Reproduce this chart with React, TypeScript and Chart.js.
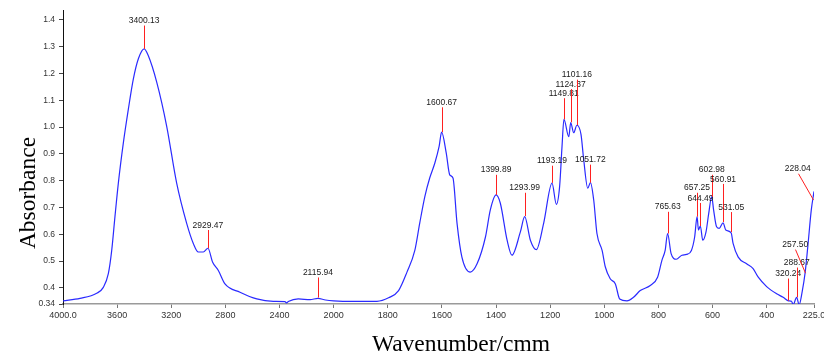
import React, { useEffect, useRef } from "react";
import { Chart, registerables } from "chart.js";

Chart.register(...registerables);

// Spectrum (wavenumber cm-1, absorbance)
const wavenumbers = [
  4000, 3874, 3751, 3702, 3665, 3640, 3616, 3591, 3554, 3517, 3480, 3443, 3400, 3370, 3307, 3234, 3160, 3086, 3037, 3000,
  2963, 2929, 2894, 2852, 2803, 2692, 2568, 2446, 2360, 2347, 2335, 2261, 2174, 2116, 2060, 2000, 1926, 1840, 1797, 1760,
  1729, 1700, 1682, 1663, 1645, 1626, 1610, 1601, 1584, 1571, 1559, 1544, 1526, 1495, 1470, 1439, 1421, 1400, 1384, 1359,
  1341, 1310, 1294, 1273, 1251, 1224, 1193, 1177, 1165, 1156, 1149, 1131, 1124, 1113, 1101, 1086, 1076, 1061, 1051, 1039,
  1027, 1008, 996, 978, 959, 943, 916, 892, 867, 830, 803, 787, 775, 766, 753, 734, 713, 696, 678, 666,
  657, 652, 645, 636, 624, 614, 603, 596, 585, 575, 561, 551, 531, 524, 505, 474, 450, 431, 400, 363,
  339, 320, 308, 302, 289, 280, 268, 258, 248, 235, 225,
];
const absorbances = [
  0.352, 0.361, 0.38, 0.402, 0.453, 0.54, 0.666, 0.791, 0.941, 1.067, 1.18, 1.255, 1.292, 1.267, 1.167, 1.004, 0.791, 0.641, 0.566, 0.534,
  0.534, 0.548, 0.496, 0.465, 0.415, 0.384, 0.359, 0.35, 0.349, 0.344, 0.349, 0.359, 0.356, 0.361, 0.355, 0.352, 0.35, 0.35, 0.363, 0.39,
  0.459, 0.54, 0.641, 0.741, 0.81, 0.866, 0.929, 0.981, 0.904, 0.822, 0.81, 0.641, 0.515, 0.459, 0.49, 0.59, 0.691, 0.747, 0.716, 0.578,
  0.522, 0.609, 0.666, 0.578, 0.543, 0.641, 0.791, 0.712, 0.778, 0.929, 1.029, 0.964, 1.017, 0.979, 1.007, 0.973, 0.879, 0.772, 0.793, 0.728,
  0.603, 0.54, 0.478, 0.434, 0.415, 0.359, 0.352, 0.365, 0.39, 0.409, 0.44, 0.503, 0.54, 0.603, 0.528, 0.507, 0.522, 0.525, 0.54, 0.59,
  0.666, 0.616, 0.631, 0.578, 0.609, 0.678, 0.741, 0.691, 0.628, 0.622, 0.643, 0.616, 0.605, 0.566, 0.515, 0.49, 0.472, 0.44, 0.405, 0.378,
  0.365, 0.352, 0.35, 0.337, 0.365, 0.337, 0.39, 0.455, 0.553, 0.691, 0.76,
];

// Peak annotations
const peakLabels = [
  "3400.13", "2929.47", "2115.94", "1600.67", "1399.89", "1293.99", "1193.19", "1149.81", "1124.37", "1101.16", "1051.72",
  "765.63", "657.25", "644.49", "602.98", "560.91", "531.05", "320.24", "288.67", "257.50", "228.04",
];
const peakWavenumbers = [
  3400.13, 2929.47, 2115.94, 1600.67, 1399.89, 1293.99, 1193.19, 1149.81, 1124.37, 1101.16, 1051.72,
  765.63, 657.25, 644.49, 602.98, 560.91, 531.05, 320.24, 288.67, 257.5, 228.04,
];
const peakLineBottom = [
  1.292, 0.548, 0.364, 0.981, 0.747, 0.668, 0.792, 1.029, 1.018, 1.007, 0.793,
  0.603, 0.666, 0.631, 0.74, 0.646, 0.608, 0.352, 0.365, 0.455, 0.728,
];
const peakLineTop = [
  1.379, 0.616, 0.439, 1.074, 0.822, 0.755, 0.856, 1.108, 1.142, 1.177, 0.86,
  0.684, 0.755, 0.717, 0.822, 0.788, 0.683, 0.435, 0.476, 0.543, 0.826,
];
const peakLabelWavenumbers = [
  3400.13, 2929.47, 2115.94, 1600.67, 1399.89, 1293.99, 1193.19, 1149.81, 1124.37, 1101.16, 1051.72,
  765.63, 657.25, 644.49, 602.98, 560.91, 531.05, 320.24, 288.67, 294, 285,
];

// Axis ticks
const xTickValues = [4000, 3600, 3200, 2800, 2400, 2000, 1800, 1600, 1400, 1200, 1000, 800, 600, 400, 225];
const xTickText = ["4000.0", "3600", "3200", "2800", "2400", "2000", "1800", "1600", "1400", "1200", "1000", "800", "600", "400", "225.0"];
const yTickValues = [0.34, 0.4, 0.5, 0.6, 0.7, 0.8, 0.9, 1.0, 1.1, 1.2, 1.3, 1.4];
const yTickText = ["0.34", "0.4", "0.5", "0.6", "0.7", "0.8", "0.9", "1.0", "1.1", "1.2", "1.3", "1.4"];

const xTitle = "Wavenumber/cmm";
const yTitle = "Absorbance";

// Piecewise axis: scale above 2000 cm-1 is compressed by 2
const toU = (w: number) => (w > 2000 ? 2000 + (w - 2000) / 2 : w);

export default function App() {
  const ref = useRef<HTMLCanvasElement | null>(null);

  useEffect(() => {
    const canvas = ref.current;
    if (!canvas) return;

    const annotationPlugin = {
      id: "peakAnnotations",
      afterDatasetsDraw(chart: any) {
        const { ctx, scales } = chart;
        const xs = scales.x;
        const ys = scales.y;
        ctx.save();
        ctx.font = "8.5px 'Liberation Sans', Arial, sans-serif";
        ctx.textAlign = "center";
        ctx.textBaseline = "bottom";
        for (let i = 0; i < peakLabels.length; i++) {
          const xp = xs.getPixelForValue(toU(peakWavenumbers[i]));
          const xl = xs.getPixelForValue(toU(peakLabelWavenumbers[i]));
          const yb = ys.getPixelForValue(peakLineBottom[i]);
          const yt = ys.getPixelForValue(peakLineTop[i]);
          ctx.strokeStyle = "#ff2020";
          ctx.lineWidth = 1;
          ctx.beginPath();
          ctx.moveTo(Math.round(xl) + 0.5, yt);
          ctx.lineTo(Math.round(xp) + 0.5, yb);
          ctx.stroke();
          ctx.fillStyle = "#1a1a1a";
          ctx.fillText(peakLabels[i], xl, yt - 0.5);
        }
        ctx.restore();
      },
      afterDraw(chart: any) {
        const { ctx } = chart;
        ctx.save();
        ctx.fillStyle = "#000";
        ctx.font = "23.5px 'Liberation Serif', 'Times New Roman', serif";
        ctx.textAlign = "center";
        ctx.textBaseline = "alphabetic";
        ctx.fillText(xTitle, 461, 351);
        ctx.translate(35, 193);
        ctx.rotate(-Math.PI / 2);
        ctx.fillText(yTitle, 0, 0);
        ctx.restore();
      },
    };

    const bgPlugin = {
      id: "bg",
      beforeDraw(chart: any) {
        const { ctx, width, height } = chart;
        ctx.save();
        ctx.fillStyle = "#fff";
        ctx.fillRect(0, 0, width, height);
        ctx.restore();
      },
    };

    const chart = new Chart(canvas, {
      type: "line",
      data: {
        datasets: [
          {
            data: wavenumbers.map((w, i) => ({ x: toU(w), y: absorbances[i] })),
            borderColor: "#2a2aff",
            borderWidth: 1.2,
            pointRadius: 0,
            fill: false,
            cubicInterpolationMode: "monotone",
          },
        ],
      },
      options: {
        animation: false,
        responsive: false,
        devicePixelRatio: 1,
        layout: { padding: { left: 0, right: 10, top: 10, bottom: 0 } },
        plugins: { legend: { display: false }, tooltip: { enabled: false }, title: { display: false } },
        scales: {
          x: {
            type: "linear",
            reverse: true,
            min: 225,
            max: toU(4000),
            border: { display: true, color: "#9a9a9a", width: 1.5 },
            grid: { display: true, drawOnChartArea: false, drawTicks: true, tickLength: 4, color: "#777" },
            afterBuildTicks: (scale: any) => {
              scale.ticks = xTickValues.map((v) => ({ value: toU(v) }));
            },
            afterFit: (scale: any) => {
              scale.height = 53;
              scale.paddingLeft = 0;
              scale.paddingRight = 0;
            },
            ticks: {
              autoSkip: false,
              maxRotation: 0,
              minRotation: 0,
              padding: 2,
              color: "#333",
              font: { family: "'Liberation Sans', Arial, sans-serif", size: 9 },
              callback: (_v: any, i: number) => xTickText[i],
            },
          },
          y: {
            type: "linear",
            min: 0.34,
            max: 1.437,
            border: { display: true, color: "#111", width: 1 },
            grid: { display: true, drawOnChartArea: false, drawTicks: true, tickLength: 4, color: "#444" },
            afterBuildTicks: (scale: any) => {
              scale.ticks = yTickValues.map((v) => ({ value: v }));
            },
            afterFit: (scale: any) => {
              scale.width = 63;
              scale.paddingTop = 0;
              scale.paddingBottom = 0;
            },
            ticks: {
              autoSkip: false,
              padding: 4,
              color: "#333",
              font: { family: "'Liberation Sans', Arial, sans-serif", size: 8.5 },
              callback: (_v: any, i: number) => yTickText[i],
            },
          },
        },
      },
      plugins: [bgPlugin, annotationPlugin],
    } as any);

    return () => chart.destroy();
  }, []);

  return (
    <div style={{ position: "absolute", left: 0, top: 0, width: 824, height: 357 }}>
      <canvas ref={ref} width={824} height={357} style={{ display: "block", width: 824, height: 357 }} />
    </div>
  );
}
